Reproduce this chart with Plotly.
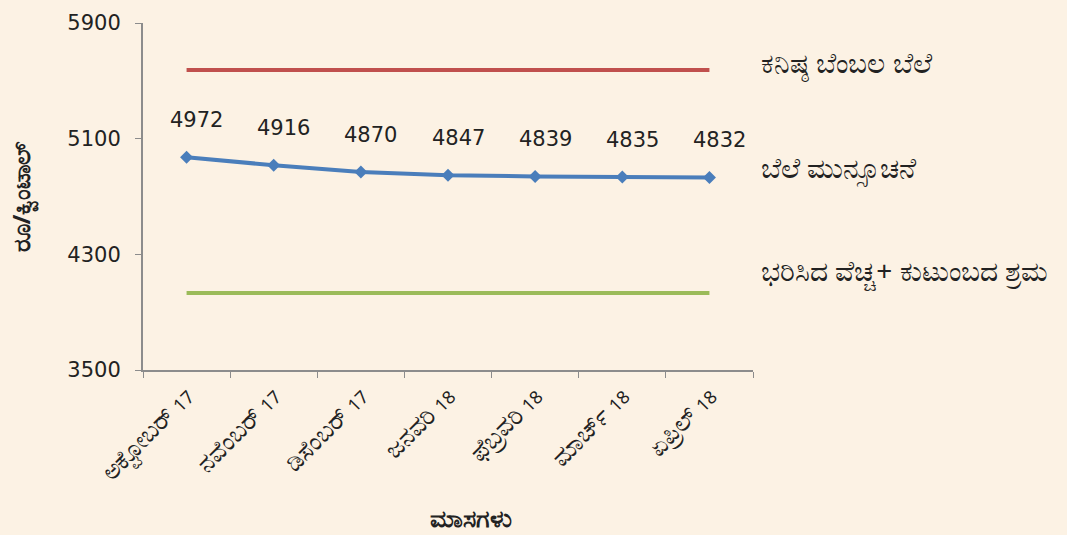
import plotly.graph_objects as go

months = ["ಅಕ್ಟೋಬರ್", "ನವೆಂಬರ್", "ಡಿಸೆಂಬರ್", "ಜನವರಿ",
          "ಫೆಬ್ರವರಿ", "ಮಾರ್ಚ್", "ಏಪ್ರಿಲ್"]
years = ["17", "17", "17", "18", "18", "18", "18"]
forecast = [4972, 4916, 4870, 4847, 4839, 4835, 4832]
msp = [5575] * 7
cost = [4032] * 7

name_msp = "ಕನಿಷ್ಠ ಬೆಂಬಲ ಬೆಲೆ"
name_forecast = "ಬೆಲೆ ಮುನ್ಸೂಚನೆ"
name_cost = "ಭರಿಸಿದ ವೆಚ್ಚ+ ಕುಟುಂಬದ ಶ್ರಮ"
x_title = "ಮಾಸಗಳು"
y_title = "ರೂ/ಕ್ವಿಂಟಾಲ್"

labels = [f"{m} {y}" for m, y in zip(months, years)]
ticktext = [f"{m} <span style='font-size:18px'>{y}</span>" for m, y in zip(months, years)]

bg = "#fcf2e4"
num_font = "DejaVu Sans, sans-serif"

fig = go.Figure()
fig.add_trace(go.Scatter(x=labels, y=msp, mode="lines", name=name_msp,
                         line=dict(color="#c0504d", width=4)))
fig.add_trace(go.Scatter(x=labels, y=cost, mode="lines", name=name_cost,
                         line=dict(color="#9bbb59", width=4)))
fig.add_trace(go.Scatter(x=labels, y=forecast, mode="lines+markers", name=name_forecast,
                         line=dict(color="#4a7ebb", width=4),
                         marker=dict(symbol="diamond", size=10, color="#4a7ebb")))

# data labels above the forecast line
for m, v in zip(labels, forecast):
    fig.add_annotation(x=m, y=v, text=str(v), showarrow=False,
                       xshift=10, yshift=37,
                       font=dict(family=num_font, size=21, color="#222"))

# series names at the right
for name, y, dy in [(name_msp, msp[-1], 7), (name_forecast, forecast[-1], 10),
                    (name_cost, cost[-1], 22)]:
    fig.add_annotation(x=1.0, xref="paper", y=y, text=name, showarrow=False,
                       xanchor="left", xshift=6, yshift=dy,
                       font=dict(size=28, color="#222"))

# x axis title (sits a little right of centre in the original)
fig.add_annotation(x=0.538, xref="paper", y=-0.425, yref="paper", text=f"<b>{x_title}</b>",
                   showarrow=False, yanchor="middle", font=dict(size=25, color="#222"))

fig.update_layout(
    width=1067, height=535,
    paper_bgcolor=bg, plot_bgcolor=bg,
    margin=dict(l=143, r=314, t=23, b=165),
    showlegend=False,
    font=dict(family="Noto Sans, sans-serif", size=16, color="#222"),
    xaxis=dict(range=[-0.5, 6.5], showgrid=False, showline=True, linecolor="#8c8c8c",
               linewidth=2, ticks="outside", tickson="boundaries", ticklen=6,
               tickcolor="#8c8c8c", tickangle=-45, tickmode="array",
               tickvals=labels, ticktext=ticktext, tickfont=dict(size=25)),
    yaxis=dict(range=[3500, 5900], tick0=3500, dtick=800, showgrid=False, zeroline=False,
               showline=True, linecolor="#8c8c8c", linewidth=2,
               ticks="outside", ticklen=6, tickcolor="#8c8c8c", ticklabelstandoff=10,
               tickfont=dict(family=num_font, size=21),
               title=dict(text=f"<b>{y_title}</b>", font=dict(size=24), standoff=30)),
)

fig.write_html("out.html", config={"displayModeBar": False},
               post_script="document.body.style.margin='0';")
